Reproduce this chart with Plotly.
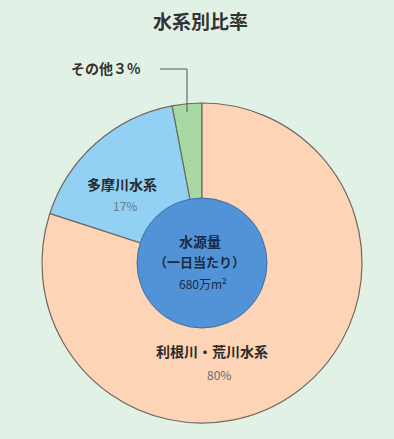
import plotly.graph_objects as go

labels = ["その他", "多摩川水系", "利根川・荒川水系"]
values = [3, 17, 80]
colors = ["#a8d9a2", "#92d0f4", "#fdd5b6"]
title = "水系別比率"
center_lines = ["水源量", "（一日当たり）", "680万m<sup>2</sup>"]

W, H = 394, 439
cx, cy, R = 202, 263, 160
r_in = 65
font = "Noto Sans CJK JP"

def px(x):
    return x / W

def py(y):
    return 1 - y / H

fig = go.Figure(go.Pie(
    labels=labels, values=values, sort=False, direction="counterclockwise",
    rotation=-values[0] * 3.6,
    marker=dict(colors=colors, line=dict(color="#6f6a60", width=1.2)),
    textinfo="none", hoverinfo="label+percent",
    domain=dict(x=[px(cx - R), px(cx + R)], y=[py(cy + R), py(cy - R)]),
    showlegend=False,
))

shapes = [
    dict(type="circle", xref="paper", yref="paper",
         x0=px(cx - r_in), x1=px(cx + r_in), y0=py(cy + r_in), y1=py(cy - r_in),
         fillcolor="#5193d6", line=dict(color="#3c6fa8", width=1)),
    dict(type="line", xref="paper", yref="paper", x0=px(160), x1=px(187), y0=py(69), y1=py(69),
         line=dict(color="#555555", width=1)),
    dict(type="line", xref="paper", yref="paper", x0=px(187), x1=px(187), y0=py(69), y1=py(112),
         line=dict(color="#555555", width=1)),
]

ann = []
def add(text, x, y, size, color, bold=True):
    ann.append(dict(text=f"<b>{text}</b>" if bold else text, x=px(x), y=py(y), xref="paper", yref="paper",
                    showarrow=False, xanchor="center", yanchor="middle",
                    font=dict(family=font, size=size, color=color)))

add(title, 200, 21, 19, "#333333")
add(f"{labels[0]}３%", 106, 68, 14, "#333333")
add(labels[1], 122, 184, 14, "#2a2a2a")
add(f"{values[1]}%", 125, 205, 12, "#6a7a86", bold=False)
add(labels[2], 212, 351, 14, "#2a2a2a")
add(f"{values[2]}%", 219, 374, 12, "#6a6a6a", bold=False)
add(center_lines[0], 200, 241, 14, "#1c2a45")
add(center_lines[1], 199, 261, 13, "#1c2a45")
add(center_lines[2], 203, 283, 12, "#1c2a45", bold=False)

fig.update_layout(
    width=W, height=H, margin=dict(l=0, r=0, t=0, b=0),
    paper_bgcolor="#e2f1e6", plot_bgcolor="#e2f1e6",
    shapes=shapes, annotations=ann,
)
fig.write_html("out.html", config={"displayModeBar": False},
               post_script="document.body.style.margin='0';document.body.style.background='#e2f1e6';")
